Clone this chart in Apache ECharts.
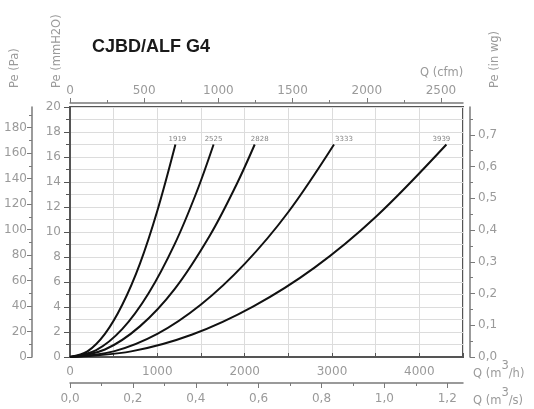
<!DOCTYPE html>
<html lang="en">
<head>
  <meta charset="UTF-8">
  <script src="https://cdn.jsdelivr.net/npm/echarts@6/dist/echarts.min.js"></script>
  <title>CJBD/ALF G4</title>
  <style>html, body { margin: 0; padding: 0; background: #fff; }</style>
</head>
<body>
  <div id="chart" style="width: 534px; height: 409px;"></div>
  <script>
    // curve names and the points: Q in m3/h, Pe in mmH2O
    var curveNames = ['1919', '2525', '2828', '3333', '3939'];
    var flow1919 = [0, 200, 400, 600, 800, 1000, 1207];
    var pres1919 = [0, 0.45, 1.85, 4.2, 7.45, 11.7, 17];
    var flow2525 = [0, 300, 600, 900, 1200, 1450, 1644];
    var pres2525 = [0, 0.55, 2.25, 5.1, 9.05, 13.2, 17];
    var flow2828 = [0, 400, 800, 1200, 1600, 1900, 2115];
    var pres2828 = [0, 0.6, 2.45, 5.45, 9.7, 13.7, 17];
    var flow3333 = [0, 500, 1000, 1500, 2000, 2500, 3023];
    var pres3333 = [0, 0.45, 1.85, 4.2, 7.45, 11.6, 17];
    var flow3939 = [0, 700, 1400, 2100, 2800, 3500, 4310];
    var pres3939 = [0, 0.45, 1.8, 4.05, 7.15, 11.2, 17];

    // tick labels of every axis
    var m3hLabels = [0, 1000, 2000, 3000, 4000];
    var m3sLabels = [0, 0.2, 0.4, 0.6, 0.8, 1.0, 1.2];
    var cfmLabels = [0, 500, 1000, 1500, 2000, 2500];
    var mmLabels = [0, 2, 4, 6, 8, 10, 12, 14, 16, 18, 20];
    var paLabels = [0, 20, 40, 60, 80, 100, 120, 140, 160, 180];
    var inwgLabels = [0, 0.1, 0.2, 0.3, 0.4, 0.5, 0.6, 0.7];

    var qMax = 4500;     // m3/h
    var peMax = 20;      // mmH2O

    var chart = echarts.init(document.getElementById('chart'));

    var labelFont = 'DejaVu Sans';
    var labelColor = '#9a9a9a';
    var lineColor = '#7a7a7a';

    function comma(v) { return v.toFixed(1).replace('.', ','); }
    function plain(v) { return String(v); }

    // midpoints between labelled ticks -> minor ticks
    function halves(arr, max) {
      var out = [];
      for (var i = 0; i < arr.length; i++) {
        var m = i < arr.length - 1 ? (arr[i] + arr[i + 1]) / 2 : arr[i] + (arr[1] - arr[0]) / 2;
        if (m <= max) out.push(m);
      }
      return out;
    }

    function sideAxis(pos, offset, max, labels, fmt, margin) {
      return [{
        type: 'value', position: pos, offset: offset, min: 0, max: max,
        axisLine: { show: true, onZero: false, lineStyle: { color: lineColor, width: 1.5 } },
        axisTick: { show: true, customValues: labels, length: 5, lineStyle: { color: lineColor } },
        axisLabel: { customValues: labels, color: labelColor, fontSize: 12, fontFamily: labelFont, margin: margin, formatter: fmt },
        splitLine: { show: false }
      }, {
        type: 'value', position: pos, offset: offset, min: 0, max: max,
        axisLine: { show: false, onZero: false },
        axisTick: { show: true, customValues: halves(labels, max), length: 3, lineStyle: { color: lineColor } },
        axisLabel: { show: false },
        splitLine: { show: false }
      }];
    }

    var xAxes = [{
      type: 'value', position: 'bottom', min: 0, max: qMax, interval: 500,
      axisLine: { show: true, onZero: false, lineStyle: { color: '#555', width: 2 } },
      axisTick: { show: true, inside: true, length: 4, lineStyle: { color: '#555' } },
      axisLabel: { customValues: m3hLabels, color: labelColor, fontSize: 12, fontFamily: labelFont, margin: 9, formatter: plain },
      splitLine: { show: true, lineStyle: { color: '#dcdcdc' } }
    }].concat(
      sideAxis('bottom', 26, qMax / 3600, m3sLabels, comma, 10),
      sideAxis('top', 4, qMax / 1.69901, cfmLabels, plain, 6)
    );

    var yAxes = [{
      type: 'value', position: 'left', min: 0, max: peMax, interval: 2,
      axisLine: { show: true, onZero: false, lineStyle: { color: '#555', width: 2 } },
      axisTick: { show: true, length: 6, lineStyle: { color: '#555' } },
      minorTick: { show: true, splitNumber: 2, length: 4, lineStyle: { color: '#555' } },
      axisLabel: { customValues: mmLabels, color: labelColor, fontSize: 12, fontFamily: labelFont, margin: 9, formatter: plain },
      splitLine: { show: true, lineStyle: { color: '#dcdcdc' } },
      minorSplitLine: { show: true, lineStyle: { color: '#dcdcdc' } }
    }].concat(
      sideAxis('left', 38, peMax * 9.80665, paLabels, plain, 5),
      sideAxis('right', 7, peMax / 25.4, inwgLabels, comma, 8)
    );

    var flows = [flow1919, flow2525, flow2828, flow3333, flow3939];
    var press = [pres1919, pres2525, pres2828, pres3333, pres3939];
    var nameShift = [2, 0, 5, 10, -5];

    var series = [];
    curveNames.forEach(function (name, i) {
      var pts = flows[i].map(function (q, j) { return [q, press[i][j]]; });
      series.push({
        type: 'line', name: name, data: pts, smooth: 0.35,
        symbol: 'none', silent: true,
        lineStyle: { color: '#111', width: 2 }
      });
      series.push({
        type: 'scatter', name: name + ' label', data: [pts[pts.length - 1]],
        symbolSize: 1, itemStyle: { color: 'rgba(0,0,0,0)' }, silent: true,
        label: {
          show: true, position: 'top', distance: 1, offset: [nameShift[i], 0],
          formatter: name, fontSize: 7, color: '#666', fontFamily: labelFont
        }
      });
    });

    function vText(x, y, text) {
      return {
        type: 'text', x: x, y: y, rotation: Math.PI / 2, silent: true,
        style: { text: text, fill: labelColor, font: '11.5px "DejaVu Sans"', textAlign: 'left', textVerticalAlign: 'middle' }
      };
    }

    function supText(x, y, a, b) {
      return {
        type: 'text', x: x, y: y, silent: true,
        style: {
          text: '{n|' + a + '}{s|3}{n|' + b + '}',
          textAlign: 'left', textVerticalAlign: 'middle',
          rich: {
            n: { fill: labelColor, fontSize: 11.5, fontFamily: labelFont, lineHeight: 20, verticalAlign: 'bottom' },
            s: { fill: labelColor, fontSize: 11.5, fontFamily: labelFont, lineHeight: 12, verticalAlign: 'top' }
          }
        }
      };
    }

    var option = {
      animation: false,
      backgroundColor: '#fff',
      grid: { left: 70, top: 107, width: 393, height: 250, show: true, borderColor: '#555', borderWidth: 2 },
      xAxis: xAxes,
      yAxis: yAxes,
      series: series,
      graphic: [
        {
          type: 'text', x: 92, y: 47, silent: true,
          style: { text: 'CJBD/ALF G4', fill: '#1a1a1a', font: 'bold 18px "Liberation Sans", Arial', textVerticalAlign: 'middle' }
        },
        vText(15, 88, 'Pe (Pa)'),
        vText(57, 88, 'Pe (mmH2O)'),
        vText(495, 88, 'Pe (in wg)'),
        {
          type: 'text', x: 420, y: 73, silent: true,
          style: { text: 'Q (cfm)', fill: labelColor, font: '11.5px "DejaVu Sans"', textVerticalAlign: 'middle' }
        },
        supText(473, 370, 'Q (m', '/h)'),
        supText(473, 397, 'Q (m', '/s)')
      ]
    };

    chart.setOption(option);
  </script>
</body>
</html>
